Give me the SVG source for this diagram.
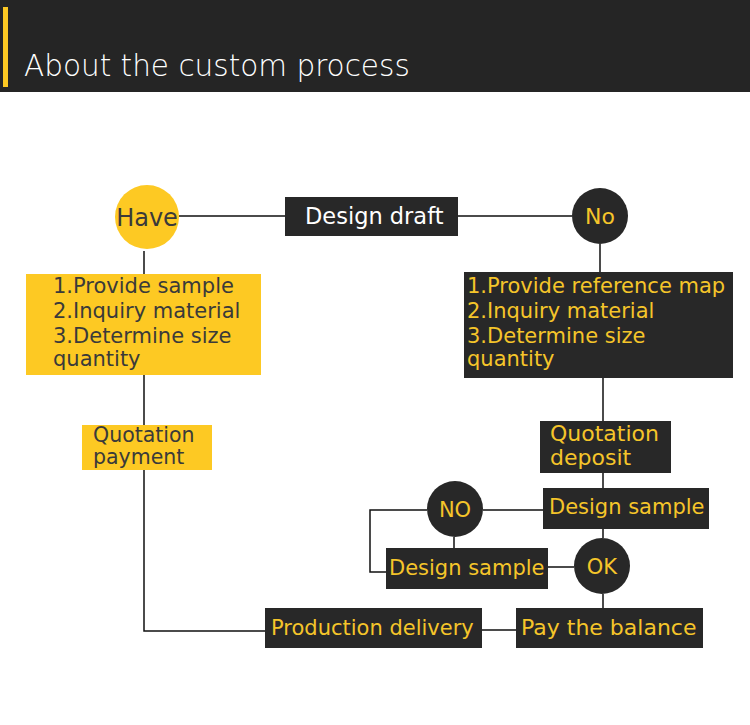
<svg xmlns="http://www.w3.org/2000/svg" width="750" height="725" viewBox="0 0 750 725">
<style>
text{font-family:"DejaVu Sans","Liberation Sans",sans-serif;font-size:21px}
.dk{fill:#282828}
.yl{fill:#FDC923}
.ty{fill:#F5C52A}
.td{fill:#3a3a3a}
.tw{fill:#ffffff}
.c{stroke:#111;stroke-width:1.5;fill:none}
</style>
<rect x="0" y="0" width="750" height="92" fill="#252525"/>
<rect x="3" y="7" width="5" height="80" fill="#FDC923"/>
<text x="24" y="76" class="tw" style="font-size:29.5px;font-weight:200">About the custom process</text>
<g id="connectors">
<path class="c" d="M179 216H285M458 216H572"/>
<path class="c" d="M144 251V274M144 375V425M144 470V631H265"/>
<path class="c" d="M600 244V272M603 378V421M603 473V488M603 529V538M603 594V608"/>
<path class="c" d="M483 510H543M427 510H370V572H386M454 537V548M548 567H574M482 630H516"/>
</g>
<g id="have"><circle cx="147" cy="217" r="32" class="yl"/><text x="147" y="226" class="td" text-anchor="middle" style="font-size:24px">Have</text></g>
<g id="design-draft"><rect x="285" y="197" width="173" height="39" class="dk"/><text x="305" y="224" class="tw" style="font-size:22.5px">Design draft</text></g>
<g id="no"><circle cx="600" cy="216" r="28" class="dk"/><text x="600" y="224" class="ty" text-anchor="middle" style="font-size:22px">No</text></g>
<g id="have-steps"><rect x="26" y="274" width="235" height="101" class="yl"/><text class="td"><tspan x="53" y="293">1.Provide sample</tspan><tspan x="53" y="318">2.Inquiry material</tspan><tspan x="53" y="343">3.Determine size</tspan><tspan x="53" y="366">quantity</tspan></text></g>
<g id="no-steps"><rect x="464" y="272" width="269" height="106" class="dk"/><text class="ty"><tspan x="467" y="293">1.Provide reference map</tspan><tspan x="467" y="318">2.Inquiry material</tspan><tspan x="467" y="343">3.Determine size</tspan><tspan x="467" y="366">quantity</tspan></text></g>
<g id="quotation-payment"><rect x="82" y="425" width="130" height="45" class="yl"/><text class="td" style="font-size:20.5px"><tspan x="93" y="442">Quotation</tspan><tspan x="93" y="464">payment</tspan></text></g>
<g id="quotation-deposit"><rect x="540" y="421" width="131" height="52" class="dk"/><text class="ty" style="font-size:22px"><tspan x="550" y="441">Quotation</tspan><tspan x="550" y="465">deposit</tspan></text></g>
<g id="design-sample-1"><rect x="543" y="488" width="166" height="41" class="dk"/><text x="549" y="514" class="ty">Design sample</text></g>
<g id="no2"><circle cx="455" cy="509" r="28" class="dk"/><text x="455" y="517" class="ty" text-anchor="middle" style="font-size:21px">NO</text></g>
<g id="design-sample-2"><rect x="386" y="548" width="162" height="41" class="dk"/><text x="389" y="575" class="ty">Design sample</text></g>
<g id="ok"><circle cx="602" cy="566" r="28" class="dk"/><text x="602" y="574" class="ty" text-anchor="middle" style="font-size:21px">OK</text></g>
<g id="pay-balance"><rect x="516" y="608" width="187" height="40" class="dk"/><text x="521" y="635" class="ty" style="font-size:22px">Pay the balance</text></g>
<g id="production-delivery"><rect x="265" y="608" width="217" height="40" class="dk"/><text x="271" y="635" class="ty" style="font-size:21px">Production delivery</text></g>
</svg>
